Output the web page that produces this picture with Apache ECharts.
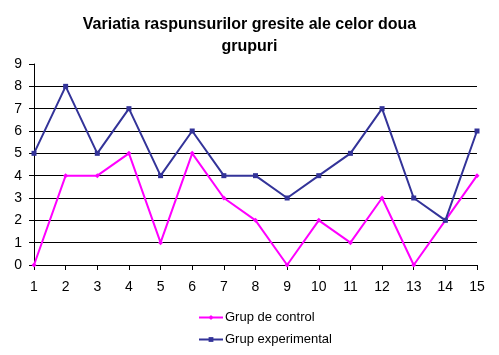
<!DOCTYPE html>
<html><head><meta charset="utf-8">
<script src="https://cdn.jsdelivr.net/npm/echarts@6/dist/echarts.min.js"></script>
<style>html,body{margin:0;padding:0;background:#fff}#c{width:499px;height:355px}</style>
</head><body><div id="c"></div>
<script>
var categories = ['1','2','3','4','5','6','7','8','9','10','11','12','13','14','15'];
var control = [0,4,4,5,1,5,3,2,0,2,1,3,0,2,4];
var experimental = [5,8,5,7,4,6,4,4,3,4,5,7,3,2,6];
var seriesNames = ['Grup de control','Grup experimental'];
var titleText = 'Variatia raspunsurilor gresite ale celor doua\ngrupuri';

var chart = echarts.init(document.getElementById('c'));
chart.setOption({
  animation: false,
  backgroundColor: '#fff',
  textStyle: {fontFamily: 'Liberation Sans, Arial, sans-serif'},
  title: {
    text: titleText, left: 'center', top: 9,
    textStyle: {fontSize: 16, fontWeight: 'bold', color: '#000', lineHeight: 22, fontFamily: 'Liberation Sans, Arial, sans-serif'}
  },
  grid: {left: 34, right: 22, top: 64, bottom: 90, containLabel: false},
  legend: {
    orient: 'vertical', left: 193, top: 306, itemWidth: 24, itemHeight: 6, itemGap: 9,
    textStyle: {fontSize: 13, color: '#000', padding: [0,0,0,-3]},
    data: seriesNames
  },
  xAxis: {
    type: 'category', data: categories, boundaryGap: false,
    axisLine: {lineStyle: {color: '#000', width: 1}},
    axisTick: {show: true, length: 5, lineStyle: {color: '#000'}},
    axisLabel: {color: '#000', fontSize: 14, margin: 15},
    splitLine: {show: false}
  },
  yAxis: {
    type: 'value', min: 0, max: 9, interval: 1,
    axisLine: {show: true, lineStyle: {color: '#000', width: 1}},
    axisTick: {show: true, length: 5, lineStyle: {color: '#000'}},
    axisLabel: {color: '#000', fontSize: 14, margin: 12},
    splitLine: {show: true, showMaxLine: false, lineStyle: {color: '#000', width: 1}}
  },
  series: [
    {name: seriesNames[0], type: 'line', data: control, symbol: 'diamond', symbolSize: 5,
     itemStyle: {color: '#FF00FF'}, lineStyle: {color: '#FF00FF', width: 2}, z: 3},
    {name: seriesNames[1], type: 'line', data: experimental, symbol: 'rect', symbolSize: 5,
     itemStyle: {color: '#333399'}, lineStyle: {color: '#333399', width: 2}, z: 4}
  ]
});
</script></body></html>
